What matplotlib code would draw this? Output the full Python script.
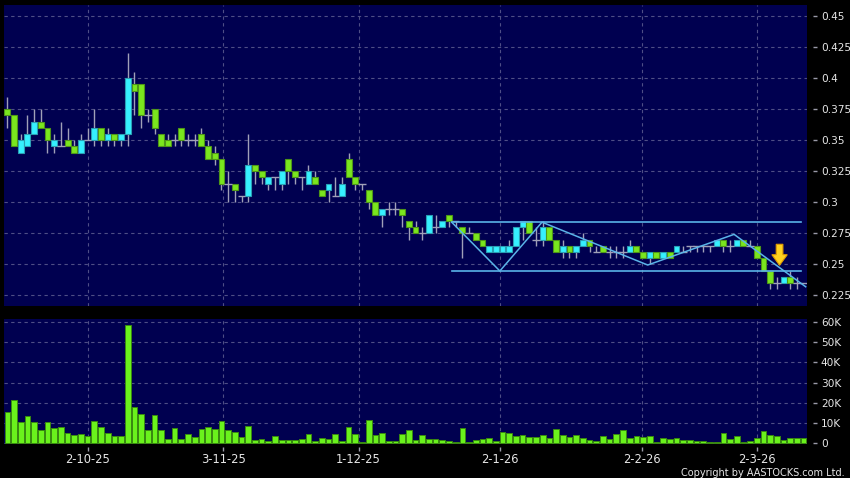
import matplotlib
matplotlib.use('Agg')
import matplotlib.pyplot as plt
from matplotlib.patches import FancyArrow
import numpy as np

# ---------------- data ----------------
opens = [.375,.37,.34,.345,.355,.365,.36,.345,.345,.35,
         .345,.34,.35,.35,.36,.35,.355,.35,.355,.395,
         .395,.37,.375,.355,.35,.35,.36,.35,.35,.355,
         .345,.34,.335,.315,.315,.305,.305,.33,.325,.315,
         .32,.315,.335,.325,.32,.315,.32,.31,.31,.305,
         .305,.335,.32,.315,.31,.30,.29,.295,.295,.295,
         .285,.28,.275,.275,.28,.28,.29,.285,.28,.275,
         .275,.27,.26,.26,.26,.26,.265,.28,.285,.27,
         .27,.28,.27,.26,.265,.26,.265,.27,.26,.265,
         .26,.26,.26,.26,.265,.26,.255,.26,.255,.26,
         .26,.26,.265,.265,.265,.265,.265,.27,.265,.265,
         .27,.265,.265,.255,.245,.235,.235,.24,.235,.235]
highs = [.385,.37,.355,.37,.375,.375,.36,.355,.365,.36,
         .35,.355,.36,.375,.36,.36,.355,.355,.42,.405,
         .395,.375,.375,.355,.355,.355,.36,.355,.355,.36,
         .35,.345,.335,.325,.315,.305,.355,.33,.325,.32,
         .32,.325,.335,.325,.32,.33,.325,.31,.315,.32,
         .32,.34,.32,.315,.31,.30,.295,.30,.30,.295,
         .285,.285,.28,.29,.29,.285,.29,.285,.28,.28,
         .275,.27,.265,.265,.265,.27,.28,.285,.285,.28,
         .285,.28,.27,.27,.265,.265,.275,.27,.265,.265,
         .265,.265,.265,.27,.265,.26,.26,.26,.26,.26,
         .265,.265,.265,.265,.265,.265,.27,.27,.27,.27,
         .27,.27,.265,.255,.245,.24,.24,.245,.24,.235]
lows = [.36,.345,.34,.345,.355,.36,.34,.34,.345,.345,
        .34,.34,.35,.345,.345,.345,.345,.345,.345,.37,
        .36,.365,.355,.345,.345,.345,.345,.345,.345,.345,
        .335,.33,.31,.30,.30,.30,.30,.315,.315,.31,
        .31,.31,.315,.315,.31,.315,.315,.305,.30,.305,
        .305,.32,.31,.31,.295,.29,.28,.29,.29,.28,
        .27,.275,.27,.275,.275,.28,.28,.28,.255,.275,
        .27,.265,.26,.26,.26,.26,.265,.27,.275,.265,
        .265,.27,.26,.255,.255,.255,.265,.26,.26,.26,
        .255,.255,.255,.26,.26,.255,.25,.255,.255,.255,
        .26,.26,.26,.26,.26,.26,.265,.26,.26,.265,
        .265,.265,.255,.245,.23,.23,.235,.23,.23,.235]
closes = [.37,.345,.35,.355,.365,.36,.35,.35,.345,.345,
          .34,.35,.35,.36,.35,.355,.35,.355,.40,.39,
          .37,.37,.36,.345,.345,.35,.35,.35,.35,.345,
          .335,.335,.315,.315,.31,.305,.33,.325,.32,.32,
          .32,.325,.325,.32,.32,.325,.315,.305,.315,.305,
          .315,.32,.315,.315,.30,.29,.295,.295,.295,.29,
          .28,.275,.275,.29,.28,.285,.285,.285,.275,.275,
          .27,.265,.265,.265,.265,.265,.28,.285,.275,.27,
          .28,.27,.26,.265,.26,.265,.27,.265,.26,.26,
          .26,.26,.26,.265,.26,.255,.26,.255,.26,.255,
          .265,.26,.265,.265,.265,.265,.27,.265,.265,.27,
          .265,.265,.255,.245,.235,.235,.24,.235,.235,.235]
volumes_k = [15.2,21.4,10.5,13.5,10.2,6.6,10.4,7.4,8.1,4.8,
             4.0,4.5,3.3,11.0,7.7,4.9,3.6,3.6,58.3,18.1,
             14.5,6.6,14.0,6.4,2.0,7.3,2.0,4.5,3.0,6.9,
             7.9,6.9,11.0,6.6,5.6,3.0,8.6,1.6,2.1,1.0,
             3.5,1.3,1.3,1.6,2.1,4.5,1.0,2.5,2.1,4.5,
             1.2,7.9,4.3,0.5,11.2,4.1,5.1,0.8,1.0,4.6,
             6.6,1.3,4.0,2.0,2.0,1.5,1.0,0.5,7.4,0.3,
             1.6,2.1,2.6,1.2,5.4,5.1,3.3,4.1,2.8,3.0,
             4.0,2.6,6.9,3.8,3.0,4.0,2.6,1.5,1.2,3.3,
             2.1,4.3,6.4,2.3,3.3,3.0,3.3,0.3,2.5,2.1,
             2.3,1.3,1.3,1.2,1.2,0.5,0.5,4.8,2.0,3.3,
             0.3,0.8,2.6,5.9,4.1,3.6,1.6,2.6,2.3,2.6]

date_pos = [12, 32.3, 52.5, 73.6, 94.9, 112]
date_labels = ['2-10-25', '3-11-25', '1-12-25', '2-1-26', '2-2-26', '2-3-26']
price_ticks = [0.225, 0.25, 0.275, 0.3, 0.325, 0.35, 0.375, 0.4, 0.425, 0.45]
price_labels = ['0.225', '0.25', '0.275', '0.3', '0.325', '0.35', '0.375', '0.4', '0.425', '0.45']
vol_ticks = [0, 10, 20, 30, 40, 50, 60]
vol_labels = ['0', '10K', '20K', '30K', '40K', '50K', '60K']

# drawn trend annotations
channel_x = [66.4, 118.6]
channel_top = 0.284
channel_bottom = 0.2447
zigzag_x = [66.4, 73.6, 79.9, 95.7, 108.6, 119.3]
zigzag_y = [0.284, 0.2447, 0.284, 0.2495, 0.2742, 0.232]
arrow_x = 115.4
arrow_top = 0.2662
arrow_tip = 0.2493

# ---------------- style ----------------
BG = '#000050'
GRID = '#4E4E86'
WICK = '#A0A0B8'
CYAN = '#36F0FF'
CYAN_E = '#2A9FB4'
GREEN = '#7AE61E'
GREEN_E = '#4E9618'
VOL = '#6AF21C'
VOL_E = '#3A8A10'
TXT = '#E6E6E6'
LINE = '#5AB4E8'

W, H = 850, 478
fig = plt.figure(figsize=(W / 100, H / 100), dpi=100, facecolor='black')
ax1 = fig.add_axes([4 / W, 1 - 306 / H, 803 / W, 301 / H], facecolor=BG)
ax2 = fig.add_axes([4 / W, 1 - 444 / H, 803 / W, 125 / H], facecolor=BG)

O = np.array(opens); Hh = np.array(highs); L = np.array(lows); C = np.array(closes)
x = np.arange(len(O))
up = C > O
dn = C < O
flat = C == O

ax1.vlines(x, L, Hh, color=WICK, lw=1.0, zorder=2)
ax1.bar(x[up], (C - O)[up], bottom=O[up], width=0.88, color=CYAN,
        edgecolor=CYAN_E, linewidth=0.8, zorder=3)
ax1.bar(x[dn], (O - C)[dn], bottom=C[dn], width=0.88, color=GREEN,
        edgecolor=GREEN_E, linewidth=0.8, zorder=3)
ax1.hlines(O[flat], x[flat] - 0.55, x[flat] + 0.55, color=WICK, lw=1.0, zorder=3)

ax1.plot(channel_x, [channel_top, channel_top], color=LINE, lw=1.2, zorder=4)
ax1.plot(channel_x, [channel_bottom, channel_bottom], color=LINE, lw=1.2, zorder=4)
ax1.plot(zigzag_x, zigzag_y, color=LINE, lw=1.1, zorder=4)

ax1.add_patch(FancyArrow(arrow_x, arrow_top, 0, arrow_tip - arrow_top, width=1.0,
                         head_width=2.3, head_length=0.0085, length_includes_head=True,
                         facecolor='#FFD21F', edgecolor='#E09A00', linewidth=0.8, zorder=6))

ax1.set_xlim(-0.5, 119.5)
ax1.set_ylim(0.2165, 0.4589)
ax1.set_yticks(price_ticks)
ax1.set_yticklabels(price_labels)
ax1.set_xticks(date_pos)
ax1.set_xticklabels([])
ax1.tick_params(axis='x', length=0)

vol = np.array(volumes_k)
ax2.bar(x, vol, width=0.85, color=VOL, edgecolor=VOL_E, linewidth=0.7, zorder=3)
ax2.set_xlim(-0.5, 119.5)
ax2.set_ylim(-0.5, 61.5)
ax2.set_yticks(vol_ticks)
ax2.set_yticklabels(vol_labels)
ax2.set_xticks(date_pos)
ax2.set_xticklabels(date_labels)

for ax in (ax1, ax2):
    for s in ax.spines.values():
        s.set_visible(False)
    ax.spines['right'].set_position(('outward', 4))
    ax.spines['bottom'].set_position(('outward', 2))
    ax.yaxis.tick_right()
    ax.set_axisbelow(True)
    ax.grid(True, color=GRID, lw=0.8, linestyle=(0, (3, 3)))
    ax.tick_params(axis='y', colors='#9A9AA8', labelcolor=TXT, length=3, width=1,
                   labelsize=7.6, pad=3)
ax2.tick_params(axis='x', colors='#9A9AA8', labelcolor=TXT, length=3, width=1,
                labelsize=8.3, pad=1.5)

fig.text(845 / W, 1 - 472.5 / H, 'Copyright by AASTOCKS.com Ltd.', color=TXT,
         fontsize=7.0, ha='right', va='center')

fig.savefig('out.png', dpi=100, facecolor='black')
